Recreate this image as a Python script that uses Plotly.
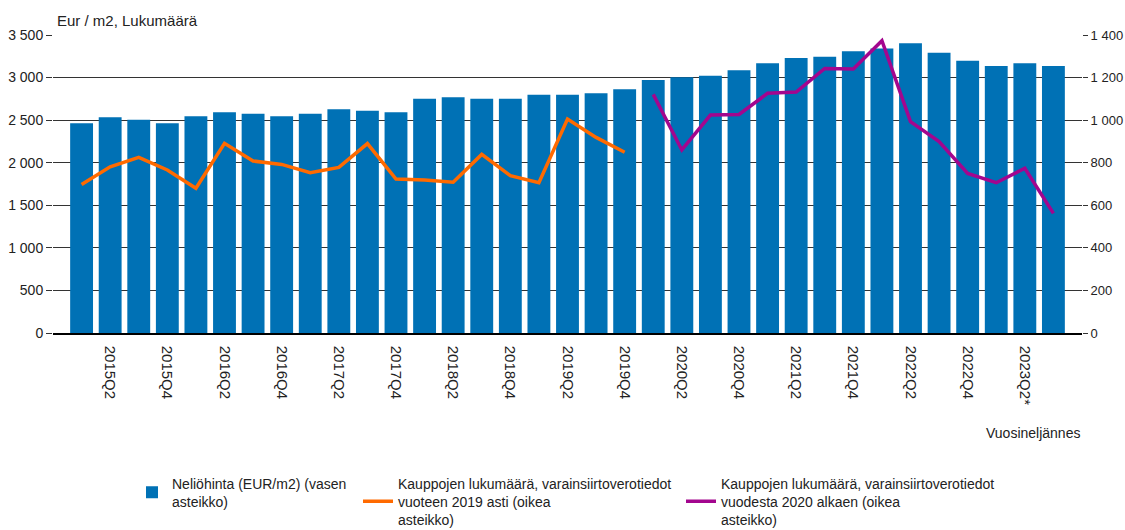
import plotly.graph_objects as go

quarters = [f"{y}Q{q}" for y in range(2015, 2024) for q in range(1, 5)][:35]
quarters = [c + "*" if c in ("2023Q1", "2023Q2", "2023Q3") else c for c in quarters]

price = [2463, 2533, 2505, 2463, 2545, 2592, 2576, 2545, 2576, 2627,
         2610, 2592, 2752, 2768, 2752, 2752, 2799, 2799, 2815, 2862,
         2972, 3003, 3022, 3085, 3167, 3230, 3246, 3309, 3340, 3403,
         3292, 3199, 3136, 3167, 3136]

count_old = [698, 781, 825, 766, 680, 891, 808, 792, 753, 778,
             890, 723, 719, 708, 839, 739, 706, 1005, 919, 849]

count_new = [1121, 860, 1024, 1027, 1126, 1132, 1243, 1240, 1373, 993,
             899, 750, 706, 774, 562]

tick_labels = quarters[1::2]

name_price = "Neliöhinta (EUR/m2) (vasen<br>asteikko)"
name_old = "Kauppojen lukumäärä, varainsiirtoverotiedot<br>vuoteen 2019 asti (oikea<br>asteikko)"
name_new = "Kauppojen lukumäärä, varainsiirtoverotiedot<br>vuodesta 2020 alkaen (oikea<br>asteikko)"

FONT = "Liberation Sans, Arial, sans-serif"
BLUE = "#0071b5"
ORANGE = "#ff6a00"
PURPLE = "#a3068e"

fig = go.Figure()
fig.add_trace(go.Bar(x=quarters, y=price, name=name_price, marker_color=BLUE,
                     marker_line_width=0, legend="legend"))
fig.add_trace(go.Scatter(x=quarters[:len(count_old)], y=count_old, name=name_old,
                         mode="lines", line=dict(color=ORANGE, width=3.5),
                         yaxis="y2", legend="legend2"))
fig.add_trace(go.Scatter(x=quarters[len(count_old):], y=count_new, name=name_new,
                         mode="lines", line=dict(color=PURPLE, width=3.5),
                         yaxis="y2", legend="legend3"))

legend_common = dict(orientation="v", yanchor="top", xanchor="left",
                     xref="container", yref="container", y=0.118,
                     font=dict(family=FONT, size=14, color="#222"),
                     bgcolor="rgba(0,0,0,0)", valign="middle", tracegroupgap=0)

fig.update_layout(
    width=1125, height=530,
    margin=dict(l=53, r=43, t=35, b=197, autoexpand=False),
    paper_bgcolor="white", plot_bgcolor="white",
    separators=", ",
    font=dict(family=FONT, size=14, color="#222"),
    bargap=0.2,
    showlegend=True,
    legend=dict(x=132 / 1125, **legend_common),
    legend2=dict(x=358 / 1125, **legend_common),
    legend3=dict(x=681 / 1125, **legend_common),
    xaxis=dict(type="category", range=[-1, 35], tickmode="array",
               tickvals=tick_labels, ticktext=tick_labels, tickangle=90,
               ticks="", showgrid=False, showline=True, linecolor="#000",
               linewidth=1.5, automargin=False, ticklabelstandoff=8,
               tickfont=dict(size=15, color="#222")),
    yaxis=dict(range=[0, 3500], dtick=500, tickformat=",", showgrid=True,
               gridcolor="#333", gridwidth=1, zeroline=False, ticks="outside",
               ticklen=6, tickcolor="#333", showline=False, automargin=False,
               tickfont=dict(size=14, color="#222")),
    yaxis2=dict(range=[0, 1400], dtick=200, tickformat=",", overlaying="y",
                side="right", showgrid=False, zeroline=False, ticks="outside",
                ticklen=5, tickcolor="#333", showline=False, automargin=False,
                tickfont=dict(size=13, color="#222")),
    annotations=[
        dict(text="Eur / m2, Lukumäärä", xref="paper", yref="paper", x=0.002,
             y=1.047, xanchor="left", yanchor="middle", showarrow=False,
             font=dict(size=15, color="#222")),
        dict(text="Vuosineljännes", xref="paper", yref="paper", x=1.0,
             y=-0.3356, xanchor="right", yanchor="middle", showarrow=False,
             font=dict(size=14, color="#222")),
    ],
)

fig.write_html("out.html", config={"displayModeBar": False},
               post_script="document.body.style.margin='0';document.body.style.overflow='hidden';")
